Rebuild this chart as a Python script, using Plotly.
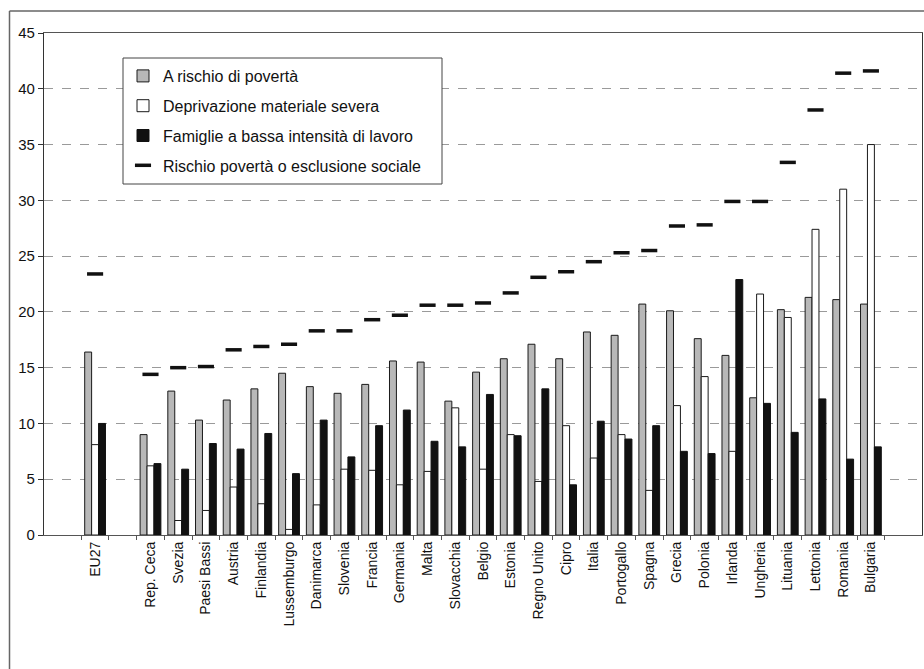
import plotly.graph_objects as go

categories = ["EU27", " ", "Rep. Ceca", "Svezia", "Paesi Bassi", "Austria", "Finlandia",
              "Lussemburgo", "Danimarca", "Slovenia", "Francia", "Germania", "Malta",
              "Slovacchia", "Belgio", "Estonia", "Regno Unito", "Cipro", "Italia",
              "Portogallo", "Spagna", "Grecia", "Polonia", "Irlanda", "Ungheria",
              "Lituania", "Lettonia", "Romania", "Bulgaria"]

rischio_poverta = [16.4, None, 9.0, 12.9, 10.3, 12.1, 13.1, 14.5, 13.3, 12.7, 13.5, 15.6, 15.5,
                   12.0, 14.6, 15.8, 17.1, 15.8, 18.2, 17.9, 20.7, 20.1, 17.6, 16.1, 12.3,
                   20.2, 21.3, 21.1, 20.7]

deprivazione = [8.1, None, 6.2, 1.3, 2.2, 4.3, 2.8, 0.5, 2.7, 5.9, 5.8, 4.5, 5.7,
                11.4, 5.9, 9.0, 4.8, 9.8, 6.9, 9.0, 4.0, 11.6, 14.2, 7.5, 21.6,
                19.5, 27.4, 31.0, 35.0]

bassa_intensita = [10.0, None, 6.4, 5.9, 8.2, 7.7, 9.1, 5.5, 10.3, 7.0, 9.8, 11.2, 8.4,
                   7.9, 12.6, 8.9, 13.1, 4.5, 10.2, 8.6, 9.8, 7.5, 7.3, 22.9, 11.8,
                   9.2, 12.2, 6.8, 7.9]

esclusione_sociale = [23.4, None, 14.4, 15.0, 15.1, 16.6, 16.9, 17.1, 18.3, 18.3, 19.3, 19.7, 20.6,
                      20.6, 20.8, 21.7, 23.1, 23.6, 24.5, 25.3, 25.5, 27.7, 27.8, 29.9, 29.9,
                      33.4, 38.1, 41.4, 41.6]

y_ticks = [0, 5, 10, 15, 20, 25, 30, 35, 40, 45]

W, H = 924, 669
ML, MR, MT, MB = 44, 2, 33, 134
PW, PH = W - ML - MR, H - MT - MB

def px_x(p):
    return (p - ML) / PW

def px_y(p):
    return 1 - (p - MT) / PH

fig = go.Figure()

fig.add_trace(go.Bar(
    x=categories, y=rischio_poverta, name="A rischio di povertà",
    marker=dict(color="#b8b8b8", line=dict(color="#1a1a1a", width=1)),
    legendgroup="a"))
fig.add_trace(go.Bar(
    x=categories, y=deprivazione, name="Deprivazione materiale severa",
    marker=dict(color="#ffffff", line=dict(color="#1a1a1a", width=1)),
    legendgroup="b"))
fig.add_trace(go.Bar(
    x=categories, y=bassa_intensita, name="Famiglie a bassa intensità di lavoro",
    marker=dict(color="#111111", line=dict(color="#111111", width=1)),
    legendgroup="c"))
fig.add_trace(go.Scatter(
    x=categories, y=esclusione_sociale, name="Rischio povertà o esclusione sociale",
    mode="markers",
    marker=dict(symbol="line-ew", size=11.5, color="#111111",
                line=dict(color="#111111", width=3.5)),
    legendgroup="d"))

fig.update_layout(
    width=W, height=H,
    margin=dict(l=ML, r=MR, t=MT, b=MB, pad=0),
    paper_bgcolor="white", plot_bgcolor="white",
    barmode="group", bargap=0.25, bargroupgap=0,
    font=dict(family="Liberation Sans, Arial, sans-serif", color="#111111", size=14),
    legend=dict(
        x=px_x(123), y=px_y(59), xanchor="left", yanchor="top",
        bgcolor="rgba(0,0,0,0)", borderwidth=0,
        font=dict(size=16, color="#111111"),
        tracegroupgap=6, traceorder="grouped",
    ),
    xaxis=dict(
        type="category", categoryorder="array", categoryarray=categories,
        tickangle=-90, tickfont=dict(size=14),
        showline=True, linecolor="#555555", linewidth=1.2, mirror=True,
        ticks="outside", tickson="boundaries", ticklen=4, tickcolor="#555555",
        showgrid=False, zeroline=False,
    ),
    yaxis=dict(
        range=[0, 45], tickvals=y_ticks, tickfont=dict(size=15),
        showline=True, linecolor="#333333", linewidth=1.2, mirror=True,
        ticks="outside", ticklen=5, tickcolor="#333333",
        showgrid=True, gridcolor="#9a9a9a", griddash="dash", gridwidth=1,
        zeroline=False,
    ),
    shapes=[
        # legend box
        dict(type="rect", xref="paper", yref="paper",
             x0=px_x(123), x1=px_x(442), y0=px_y(184), y1=px_y(58),
             fillcolor="white", line=dict(color="#444444", width=1), layer="above"),
        # outer frame (left and top)
        dict(type="line", xref="paper", yref="paper",
             x0=px_x(9.5), x1=px_x(9.5), y0=px_y(669), y1=px_y(11),
             line=dict(color="#666666", width=1.5)),
        dict(type="line", xref="paper", yref="paper",
             x0=px_x(9.5), x1=px_x(924), y0=px_y(11), y1=px_y(11),
             line=dict(color="#666666", width=1.5)),
    ],
)

fig.write_html("out.html", config={"displayModeBar": False},
               post_script="document.body.style.margin='0';document.body.style.overflow='hidden';")
